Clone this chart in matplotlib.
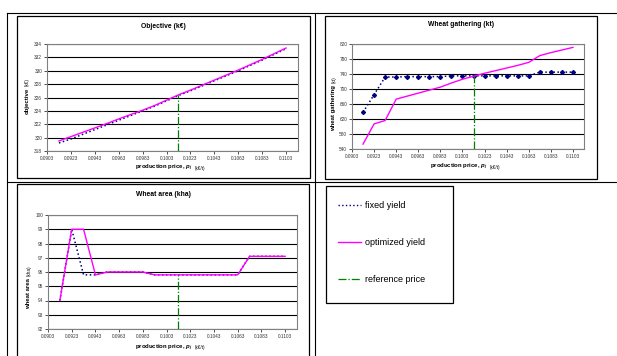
import matplotlib
matplotlib.use("Agg")
import matplotlib.pyplot as plt
from matplotlib.lines import Line2D
from matplotlib.patches import Rectangle
import numpy as np

plt.rcParams['font.family'] = ['Liberation Sans', 'DejaVu Sans']
plt.rcParams['mathtext.fontset'] = 'custom'
plt.rcParams['mathtext.it'] = 'Liberation Sans:italic:bold'
plt.rcParams['mathtext.rm'] = 'Liberation Sans:bold'

# production price (k€/t)
price = [0.0913, 0.0923, 0.0933, 0.0943, 0.0953, 0.0963, 0.0973, 0.0983, 0.0993, 0.1003,
         0.1013, 0.1023, 0.1033, 0.1043, 0.1053, 0.1063, 0.1073, 0.1083, 0.1093, 0.1103]
ref_price = 0.1013
x_ticks = [0.0903, 0.0923, 0.0943, 0.0963, 0.0983, 0.1003, 0.1023, 0.1043, 0.1063, 0.1083, 0.1103]

# objective (k€)
obj_fixed = [319.2, 319.8, 320.5, 321.2, 321.9, 322.6, 323.3, 324.0, 324.7, 325.5,
             326.3, 327.0, 327.75, 328.5, 329.25, 330.0, 330.8, 331.6, 332.45, 333.3]
obj_optim = [319.5, 320.15, 320.8, 321.45, 322.1, 322.8, 323.45, 324.1, 324.8, 325.6,
             326.4, 327.1, 327.85, 328.6, 329.35, 330.1, 330.9, 331.7, 332.55, 333.4]

# wheat gathering (kt)
gath_fixed = [638, 685, 732, 732, 733, 733, 733, 733, 735, 735,
              735, 735, 735, 735, 735, 735, 745, 745, 745, 745]
gath_optim = [553, 607, 616, 673, 681, 689, 697, 705, 716, 726,
              734, 742, 749, 756, 763, 771, 789, 797, 804, 811]

# wheat area (kha)
area_fixed = [94.0, 99.0, 95.8, 95.8, 96.0, 96.0, 96.0, 96.0, 95.8, 95.8,
              95.8, 95.8, 95.8, 95.8, 95.8, 95.8, 97.1, 97.1, 97.1, 97.1]
area_optim = [94.0, 99.0, 99.0, 95.8, 96.0, 96.0, 96.0, 96.0, 95.8, 95.8,
              95.8, 95.8, 95.8, 95.8, 95.8, 95.8, 97.1, 97.1, 97.1, 97.1]

W, H = 617, 356
fig = plt.figure(figsize=(W / 100, H / 100), dpi=100)

def fx(x):
    return x / W

def fy(y):
    return 1 - y / H

def box(l, t, r, b):
    return [l / W, 1 - b / H, (r - l) / W, (b - t) / H]

def hline(x0, x1, y, lw=0.8):
    fig.add_artist(Line2D([fx(x0), fx(x1)], [fy(y), fy(y)], color='black', lw=lw))

def vline(x, y0, y1, lw=0.8):
    fig.add_artist(Line2D([fx(x), fx(x)], [fy(y0), fy(y1)], color='black', lw=lw))

def frame(l, t, r, b):
    fig.add_artist(Rectangle((fx(l), fy(b)), (r - l) / W, (b - t) / H, fill=False,
                             edgecolor='black', lw=0.9))

# table grid
hline(7, 617, 13)
hline(7, 617, 182.5)
vline(7, 13, 356)
vline(315, 13, 356)

C_FIX = '#000080'
C_OPT = '#FF00FF'
C_REF = '#008000'

def make_chart(rect, chart_box, title, title_y, ylims, yticks, ylab, yunit, ylab_pos,
               xlab_y, fixed, optim, markers=False):
    frame(*chart_box)
    ax = fig.add_axes(box(*rect))
    for yv in yticks:
        ax.axhline(yv, color='black', lw=0.8, zorder=0)
    if markers:
        ax.plot(price, fixed, color=C_FIX, ls=':', lw=1.1, marker='D', ms=2.0, zorder=2)
    else:
        ax.plot(price, fixed, color=C_FIX, ls=':', lw=1.1, zorder=2)
    ax.plot(price, optim, color=C_OPT, lw=1.0, zorder=3)
    top = np.interp(ref_price, price, fixed)
    ax.plot([ref_price, ref_price], [ylims[0], top], color=C_REF, ls='-.', lw=0.9, zorder=4)
    ax.set_xlim(0.0903, 0.1113)
    ax.set_ylim(*ylims)
    ax.set_xticks(x_ticks)
    ax.set_xticklabels(['%.4f' % v for v in x_ticks])
    ax.set_yticks(yticks)
    ax.set_yticklabels([('%g' % v) for v in yticks])
    ax.tick_params(labelsize=3.4, length=2, width=0.6, pad=1.5, colors='#333333')
    for s in ax.spines.values():
        s.set_color('#808080')
        s.set_linewidth(0.8)
    cx = (chart_box[0] + chart_box[2]) / 2
    fig.text(fx(cx), fy(title_y), title, ha='center', va='center', fontsize=4.9,
             fontweight='bold')
    acx = (rect[0] + rect[2]) / 2
    fig.text(fx(acx + 20), fy(xlab_y), 'production price, $p_j$', ha='right', va='center',
             fontsize=4.3, fontweight='bold')
    fig.text(fx(acx + 22), fy(xlab_y), '(k€/t)', ha='left', va='center', fontsize=3.3)
    lx, ly = ylab_pos
    fig.text(fx(lx), fy(ly), ylab, rotation=90, rotation_mode='anchor', ha='right',
             va='center', fontsize=4.3, fontweight='bold')
    fig.text(fx(lx), fy(ly - 2), yunit, rotation=90, rotation_mode='anchor', ha='left',
             va='center', fontsize=3.3)
    return ax

make_chart((47, 44, 298, 151), (17, 16, 310, 178), 'Objective (k€)', 27,
           (318, 334), list(range(318, 335, 2)), 'objective', '(k€)', (27, 88), 168,
           obj_fixed, obj_optim)

make_chart((352, 44, 584, 149), (325, 16, 597, 179), 'Wheat gathering (kt)', 25,
           (540, 820), list(range(540, 821, 40)), 'wheat gathering', '(kt)', (334, 85), 167,
           gath_fixed, gath_optim, markers=True)

make_chart((48, 215, 297, 329), (17, 184, 309, 380), 'Wheat area (kha)', 195,
           (92, 100), list(range(92, 101)), 'wheat area', '(kha)', (29, 278), 348,
           area_fixed, area_optim)

# legend box
frame(326, 186, 453, 303)
handles = [Line2D([], [], color=C_FIX, ls=':', lw=1.0),
           Line2D([], [], color=C_OPT, lw=1.0),
           Line2D([], [], color=C_REF, ls='-.', lw=0.9)]
fig.legend(handles, ['fixed yield', 'optimized yield', 'reference price'],
           loc='upper left', bbox_to_anchor=(fx(338), fy(201.5)), frameon=False,
           borderpad=0, borderaxespad=0, fontsize=6.5, handlelength=2.6,
           handletextpad=0.35, labelspacing=3.1)

fig.savefig('out.png', dpi=100)
